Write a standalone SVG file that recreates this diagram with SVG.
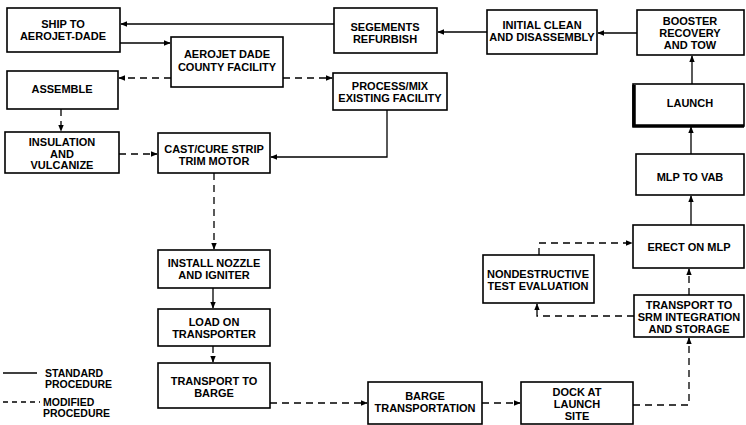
<svg xmlns="http://www.w3.org/2000/svg" width="746" height="425" viewBox="0 0 746 425">
<defs>
<style>
.box{fill:#fff;stroke:#000;stroke-width:1.6}
.t{font-family:"Liberation Sans",Arial,sans-serif;font-weight:bold;font-size:11px;text-anchor:middle;fill:#000}
.lg{font-family:"Liberation Sans",Arial,sans-serif;font-weight:bold;font-size:10.5px;fill:#000}
.s{fill:none;stroke:#000;stroke-width:1.3}
.d{fill:none;stroke:#000;stroke-width:1.3;stroke-dasharray:7,5}
</style>
<marker id="a" viewBox="0 0 10 10" refX="9" refY="5" markerWidth="7" markerHeight="7" orient="auto" markerUnits="userSpaceOnUse">
<path d="M0,1 L10,5 L0,9 z" fill="#000"/>
</marker>
</defs>
<rect width="746" height="425" fill="#fff"/>

<g id="connectors">
<path class="s" d="M334,24 H121" marker-end="url(#a)"/>
<path class="s" d="M120,43 H170" marker-end="url(#a)"/>
<path class="d" d="M171,78 H119" marker-end="url(#a)"/>
<path class="d" d="M283,78 H332" marker-end="url(#a)"/>
<path class="s" d="M487,32 H438" marker-end="url(#a)"/>
<path class="s" d="M637,33 H598" marker-end="url(#a)"/>
<path class="s" d="M692,84 V56" marker-end="url(#a)"/>
<path class="s" d="M691,154 V127" marker-end="url(#a)"/>
<path class="s" d="M691,225 V196" marker-end="url(#a)"/>
<path class="d" d="M689,295 V269" marker-end="url(#a)"/>
<path class="d" d="M633,405 H689 V338" marker-end="url(#a)"/>
<path class="d" d="M634,316 H537 V304" marker-end="url(#a)"/>
<path class="d" d="M539,255 V243 H632" marker-end="url(#a)"/>
<path class="d" d="M482,403 H520" marker-end="url(#a)"/>
<path class="d" d="M270,403 H367" marker-end="url(#a)"/>
<path class="s" d="M387,110 V157 H271" marker-end="url(#a)"/>
<path class="d" d="M61,109 V131" marker-end="url(#a)"/>
<path class="d" d="M119,154 H157" marker-end="url(#a)"/>
<path class="d" d="M214,173 V249" marker-end="url(#a)"/>
<path class="s" d="M213,288 V308" marker-end="url(#a)"/>
<path class="d" d="M213,346 V362" marker-end="url(#a)"/>
</g>

<g id="ship"><rect class="box" x="7" y="8" width="113" height="44"/><text class="t" x="63" y="28">SHIP TO</text><text class="t" x="63" y="40">AEROJET-DADE</text></g>
<g id="aerojet"><rect class="box" x="171" y="37" width="112" height="50"/><text class="t" x="227" y="58">AEROJET DADE</text><text class="t" x="227" y="71">COUNTY FACILITY</text></g>
<g id="assemble"><rect class="box" x="7" y="71" width="111" height="38"/><text class="t" x="62" y="93">ASSEMBLE</text></g>
<g id="segments"><rect class="box" x="334" y="8" width="103" height="45"/><text class="t" x="385" y="31">SEGEMENTS</text><text class="t" x="385" y="43">REFURBISH</text></g>
<g id="process"><rect class="box" x="333" y="73" width="114" height="37"/><text class="t" x="390" y="90">PROCESS/MIX</text><text class="t" x="390" y="102">EXISTING FACILITY</text></g>
<g id="initial"><rect class="box" x="487" y="10" width="110" height="44"/><text class="t" x="542" y="29">INITIAL CLEAN</text><text class="t" x="542" y="41">AND DISASSEMBLY</text></g>
<g id="booster"><rect class="box" x="637" y="10" width="107" height="45"/><text class="t" x="690" y="25">BOOSTER</text><text class="t" x="690" y="37">RECOVERY</text><text class="t" x="690" y="49">AND TOW</text></g>
<g id="launch"><rect class="box" x="633" y="84" width="111" height="42"/><path d="M634,85 V126 H744" fill="none" stroke="#000" stroke-width="3.5"/><text class="t" x="690" y="107">LAUNCH</text></g>
<g id="insulation"><rect class="box" x="5" y="132" width="114" height="41"/><text class="t" x="62" y="146">INSULATION</text><text class="t" x="62" y="157.5">AND</text><text class="t" x="62" y="169">VULCANIZE</text></g>
<g id="cast"><rect class="box" x="158" y="133" width="112" height="40"/><text class="t" x="214" y="153">CAST/CURE STRIP</text><text class="t" x="214" y="165">TRIM MOTOR</text></g>
<g id="install"><rect class="box" x="158" y="250" width="112" height="38"/><text class="t" x="214" y="267">INSTALL NOZZLE</text><text class="t" x="214" y="279">AND IGNITER</text></g>
<g id="load"><rect class="box" x="158" y="309" width="112" height="37"/><text class="t" x="214" y="326">LOAD ON</text><text class="t" x="214" y="338">TRANSPORTER</text></g>
<g id="transport"><rect class="box" x="158" y="363" width="112" height="45"/><text class="t" x="214" y="385">TRANSPORT TO</text><text class="t" x="214" y="397">BARGE</text></g>
<g id="barge"><rect class="box" x="368" y="382" width="114" height="42"/><text class="t" x="425" y="400">BARGE</text><text class="t" x="425" y="412">TRANSPORTATION</text></g>
<g id="dock"><rect class="box" x="521" y="382" width="112" height="42"/><text class="t" x="577" y="396">DOCK AT</text><text class="t" x="577" y="408">LAUNCH</text><text class="t" x="577" y="420">SITE</text></g>
<g id="srm"><rect class="box" x="634" y="295" width="110" height="42"/><text class="t" x="689" y="309">TRANSPORT TO</text><text class="t" x="689" y="321">SRM INTEGRATION</text><text class="t" x="689" y="333">AND STORAGE</text></g>
<g id="ndt"><rect class="box" x="483" y="255" width="111" height="48"/><text class="t" x="538" y="278">NONDESTRUCTIVE</text><text class="t" x="538" y="290">TEST EVALUATION</text></g>
<g id="erect"><rect class="box" x="633" y="225" width="111" height="43"/><text class="t" x="689" y="251">ERECT ON MLP</text></g>
<g id="mlp"><rect class="box" x="636" y="154" width="108" height="41"/><text class="t" x="690" y="181">MLP TO VAB</text></g>

<g id="legend">
<path class="s" d="M3,373 H37"/>
<text class="lg" x="45" y="377">STANDARD</text>
<text class="lg" x="45" y="388">PROCEDURE</text>
<path class="d" d="M3,402 H40" style="stroke-dasharray:5,4"/>
<text class="lg" x="43" y="406">MODIFIED</text>
<text class="lg" x="43" y="417">PROCEDURE</text>
</g>
</svg>
